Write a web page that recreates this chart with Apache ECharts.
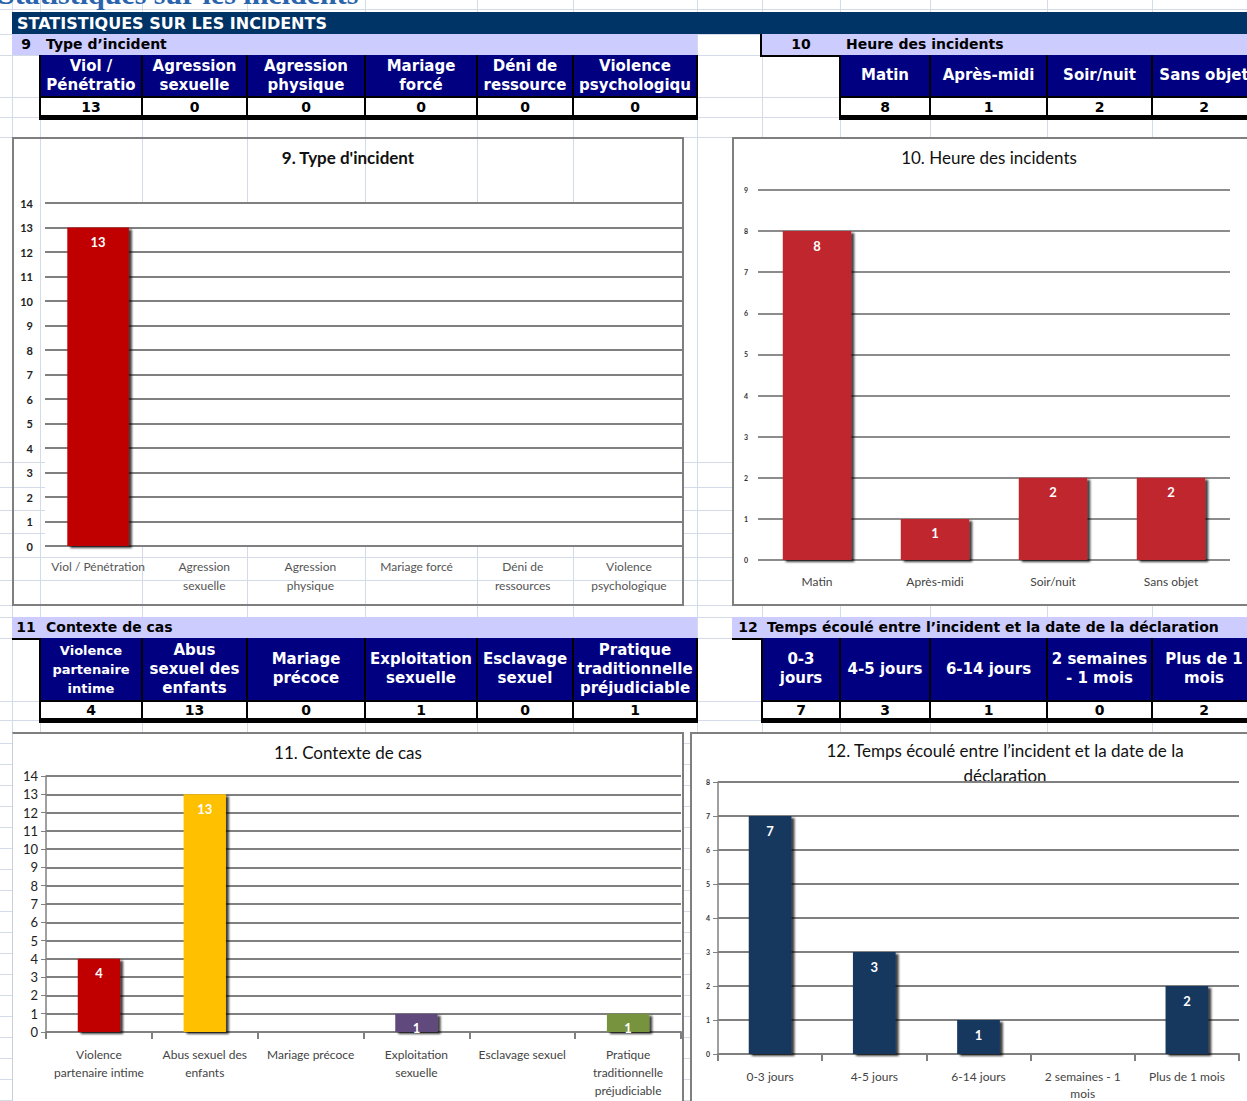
<!DOCTYPE html>
<html>
<head>
<meta charset="utf-8">
<script src="https://cdn.jsdelivr.net/npm/echarts@6/dist/echarts.min.js"></script>
<style>
body { margin: 0; background: #fff; }
#sheet { position: absolute; left: 0; top: 0; width: 1247px; height: 1101px; overflow: hidden; background: #fff; font-family: 'DejaVu Sans', sans-serif; }
.abs { position: absolute; box-sizing: border-box; }
.hd { display: flex; align-items: center; justify-content: center; text-align: center; white-space: pre; color: #fff; font-weight: bold; font-size: 15px; line-height: 19px; overflow: hidden; background: #000080; }
.val { display: flex; align-items: center; justify-content: center; font-weight: bold; font-size: 14px; background: #fff; color: #000; }
.lav { background: #ccccff; font-weight: bold; font-size: 14px; line-height: 21px; color: #000; white-space: nowrap; }
.frame { position: absolute; box-sizing: border-box; border: 2px solid #7f7f7f; }
</style>
</head>
<body>
<div id="sheet"></div>
<script>
// table headers (as shown in the sheet cells)
var typeHeaders = ['Viol /\nPénétratio', 'Agression\nsexuelle', 'Agression\nphysique', 'Mariage\nforcé', 'Déni de\nressource', 'Violence\npsychologiqu'];
var heureHeaders = ['Matin', 'Après-midi', 'Soir/nuit', 'Sans objet'];
var contexteHeaders = ['Violence\npartenaire\nintime', 'Abus\nsexuel des\nenfants', 'Mariage\nprécoce', 'Exploitation\nsexuelle', 'Esclavage\nsexuel', 'Pratique\ntraditionnelle\npréjudiciable'];
var delaiHeaders = ['0-3\njours', '4-5 jours', '6-14 jours', '2 semaines\n- 1 mois', 'Plus de 1\nmois'];

// chart categories
var typeCategories = ['Viol / Pénétration', 'Agression\nsexuelle', 'Agression\nphysique', 'Mariage forcé', 'Déni de\nressources', 'Violence\npsychologique'];
var heureCategories = ['Matin', 'Après-midi', 'Soir/nuit', 'Sans objet'];
var contexteCategories = ['Violence\npartenaire intime', 'Abus sexuel des\nenfants', 'Mariage précoce', 'Exploitation\nsexuelle', 'Esclavage sexuel', 'Pratique\ntraditionnelle\npréjudiciable'];
var delaiCategories = ['0-3 jours', '4-5 jours', '6-14 jours', '2 semaines - 1\nmois', 'Plus de 1 mois'];

// values
var typeValues = [13, 0, 0, 0, 0, 0];
var heureValues = [8, 1, 2, 2];
var contexteValues = [4, 13, 0, 1, 0, 1];
var delaiValues = [7, 3, 1, 0, 2];
var contexteColors = ['#c00000', '#ffc000', '#c00000', '#604a7b', '#c00000', '#77933c'];

var sheet = document.getElementById('sheet');

function add(x, y, w, h, cls, css, text) {
    var d = document.createElement('div');
    d.className = 'abs ' + (cls || '');
    d.style.cssText += 'left:' + x + 'px;top:' + y + 'px;width:' + w + 'px;height:' + h + 'px;' + (css || '');
    if (text != null) d.textContent = text;
    sheet.appendChild(d);
    return d;
}

// spreadsheet grid
var colLines = [12, 40, 142, 247, 365, 477, 573, 697, 762, 840, 930, 1047, 1152];
var rowLines = [9, 34, 55, 97, 117, 137, 462, 487, 510, 533, 557, 580, 605, 617, 638, 701, 720];
for (var r = 743; r < 1101; r += 21) rowLines.push(r);
colLines.forEach(function (x) { add(x, 0, 1, 1101, '', 'background:#d3dbe9'); });
rowLines.forEach(function (y) { add(0, y, 1247, 1, '', 'background:#d3dbe9'); });

// cut-off page title (only its lower part shows, as in the sheet)
add(-2, -21, 500, 32, '', 'font-family:"Liberation Serif",serif;font-weight:bold;font-size:30px;line-height:30px;color:#2a64ad;white-space:nowrap;', 'Statistiques sur les incidents');

// main banner
add(12, 12, 1247, 22, '', 'background:#003366;color:#fff;font-weight:bold;font-size:16px;line-height:23px;padding-left:5px;white-space:nowrap;', 'STATISTIQUES SUR LES INCIDENTS');

function table(cols, yHead, hHead, yVal, hVal, yEnd, headers, values, headCss) {
    var last = cols[cols.length - 1];
    add(cols[0] - 1, yHead, last - cols[0] + 2, yEnd - yHead, '', 'background:#000');
    for (var i = 0; i < headers.length; i++) {
        var w = cols[i + 1] - cols[i] - 2;
        add(cols[i] + 1, yHead, w, hHead, 'hd', (headCss && headCss[i]) || '', headers[i]);
        add(cols[i] + 1, yVal, w, hVal, 'val', '', String(values[i]));
    }
}

// section 9
add(12, 34, 685, 21, 'lav', '', '');
add(12, 34, 28, 21, 'lav', 'text-align:center;background:transparent', '9');
add(46, 34, 300, 21, 'lav', 'background:transparent', 'Type d’incident');
table([40, 142, 247, 365, 477, 573, 697], 55, 41, 98, 17, 120, typeHeaders, typeValues);

// section 10
add(762, 34, 500, 21, 'lav', '', '');
add(760, 34, 2, 23, '', 'background:#000');
add(760, 55, 80, 2, '', 'background:#000');
add(762, 34, 78, 21, 'lav', 'text-align:center;background:transparent', '10');
add(846, 34, 300, 21, 'lav', 'background:transparent', 'Heure des incidents');
table([840, 930, 1047, 1152, 1256], 55, 41, 98, 17, 120, heureHeaders, heureValues);

// section 11
add(12, 617, 685, 21, 'lav', '', '');
add(12, 638, 686, 2, '', 'background:#000');
add(12, 617, 28, 21, 'lav', 'text-align:center;background:transparent', '11');
add(46, 617, 300, 21, 'lav', 'background:transparent', 'Contexte de cas');
table([40, 142, 247, 365, 477, 573, 697], 638, 62, 702, 16, 723, contexteHeaders, contexteValues, ['font-size:13px']);

// section 12
add(732, 617, 530, 21, 'lav', '', '');
add(732, 638, 530, 2, '', 'background:#000');
add(734, 617, 28, 21, 'lav', 'text-align:center;background:transparent', '12');
add(767, 617, 500, 21, 'lav', 'background:transparent', 'Temps écoulé entre l’incident et la date de la déclaration');
table([762, 840, 930, 1047, 1152, 1256], 638, 62, 702, 16, 723, delaiHeaders, delaiValues);

// chart frames
var f9 = add(12, 137, 672, 469, 'frame', '');
var f10 = add(732, 137, 530, 469, 'frame', 'background:#fff');
var f11 = add(12, 732, 672, 400, 'frame', 'background:#fff;border-left:1px solid #c8d0de');
var f12 = add(690, 732, 570, 400, 'frame', 'background:#fff');

var cFont = 'Lato';
function barStyle(color) {
    return { color: color, shadowColor: 'rgba(0,0,0,0.75)', shadowBlur: 2, shadowOffsetX: 3, shadowOffsetY: 2 };
}
function valueLabel(size) {
    return {
        show: true, position: 'insideTop', distance: 8, color: '#fff', fontWeight: 'bold',
        fontSize: size, fontFamily: cFont,
        formatter: function (p) { return p.value ? String(p.value) : ''; }
    };
}
function titleText(text, x, y, bold) {
    return [{
        type: 'text', x: x, y: y,
        style: {
            text: text, textAlign: 'center', textVerticalAlign: 'top', lineHeight: 25,
            font: (bold ? 'bold ' : '') + '17px Lato', fill: '#111'
        }
    }];
}

var c9 = echarts.init(f9, null, { renderer: 'svg' });
c9.setOption({
    animation: false,
    graphic: titleText('9. Type d\'incident', 334, 6, true),
    grid: { left: 31, right: 0, top: 64, bottom: 58, show: true, backgroundColor: '#fff', borderWidth: 0 },
    xAxis: {
        type: 'category', data: typeCategories,
        axisLine: { show: false }, axisTick: { show: false },
        axisLabel: { interval: 0, margin: 11, fontFamily: cFont, fontSize: 12, lineHeight: 19, color: '#555' }
    },
    yAxis: {
        type: 'value', min: 0, max: 14, interval: 1,
        axisLabel: { margin: 12, fontFamily: cFont, fontSize: 11, fontWeight: 'bold', color: '#222' },
        splitLine: { lineStyle: { color: '#808080', width: 2 } }
    },
    series: [{ type: 'bar', data: typeValues, barWidth: '58%', itemStyle: barStyle('#c00000'), label: valueLabel(13) }]
});

var c10 = echarts.init(f10, null, { renderer: 'svg' });
c10.setOption({
    animation: false,
    graphic: titleText('10. Heure des incidents', 255, 6, false),
    grid: { left: 24, right: 30, top: 51, bottom: 44 },
    xAxis: {
        type: 'category', data: heureCategories,
        axisLine: { show: false }, axisTick: { show: false },
        axisLabel: { interval: 0, margin: 15, fontFamily: cFont, fontSize: 12, color: '#444' }
    },
    yAxis: {
        type: 'value', min: 0, max: 9, interval: 1,
        axisLabel: { margin: 10, fontFamily: cFont, fontSize: 7, fontWeight: 'bold', color: '#333' },
        splitLine: { lineStyle: { color: '#8c8c8c', width: 2 } }
    },
    series: [{ type: 'bar', data: heureValues, barWidth: '58%', itemStyle: barStyle('#c0282d'), label: valueLabel(13) }]
});

var c11 = echarts.init(f11, null, { renderer: 'svg' });
c11.setOption({
    animation: false,
    graphic: titleText('11. Contexte de cas', 335, 6, false),
    grid: { left: 33, right: 1, top: 42, bottom: 98 },
    xAxis: {
        type: 'category', data: contexteCategories,
        axisLine: { show: true, lineStyle: { color: '#808080', width: 2 } },
        axisTick: { show: true, length: 7, lineStyle: { color: '#808080', width: 2 } },
        axisLabel: { interval: 0, margin: 13, fontFamily: cFont, fontSize: 12, lineHeight: 18, color: '#444' }
    },
    yAxis: {
        type: 'value', min: 0, max: 14, interval: 1,
        axisLine: { show: true, lineStyle: { color: '#808080', width: 1.5 } },
        axisTick: { show: true, length: 5, lineStyle: { color: '#808080' } },
        axisLabel: { margin: 8, fontFamily: cFont, fontSize: 13, color: '#222' },
        splitLine: { lineStyle: { color: '#808080', width: 2 } }
    },
    series: [{
        type: 'bar', barWidth: '40%', label: valueLabel(13),
        data: contexteValues.map(function (v, i) { return { value: v, itemStyle: barStyle(contexteColors[i]) }; })
    }]
});

var c12 = echarts.init(f12, null, { renderer: 'svg' });
c12.setOption({
    animation: false,
    graphic: titleText('12. Temps écoulé entre l’incident et la date de la\ndéclaration', 313, 4, false),
    grid: { left: 26, right: 19, top: 48, bottom: 76 },
    xAxis: {
        type: 'category', data: delaiCategories,
        axisLine: { show: true, lineStyle: { color: '#808080', width: 2 } },
        axisTick: { show: true, length: 7, lineStyle: { color: '#808080', width: 2 } },
        axisLabel: { interval: 0, margin: 14, fontFamily: cFont, fontSize: 12, lineHeight: 17, color: '#444' }
    },
    yAxis: {
        type: 'value', min: 0, max: 8, interval: 1,
        axisLine: { show: true, lineStyle: { color: '#808080', width: 1.5 } },
        axisTick: { show: true, length: 5, lineStyle: { color: '#808080' } },
        axisLabel: { margin: 8, fontFamily: cFont, fontSize: 7, fontWeight: 'bold', color: '#333' },
        splitLine: { lineStyle: { color: '#808080', width: 2 } }
    },
    series: [{ type: 'bar', data: delaiValues, barWidth: '41%', itemStyle: barStyle('#17375e'), label: valueLabel(13) }]
});
</script>
</body>
</html>
